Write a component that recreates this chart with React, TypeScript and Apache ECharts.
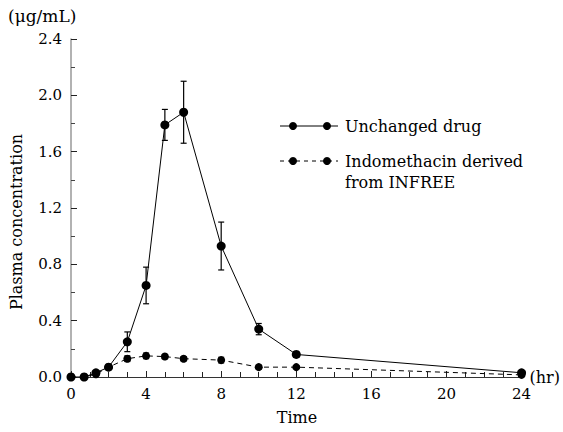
import React, { useEffect, useRef } from "react";
import * as echarts from "echarts";

const times = [0, 0.7, 1.33, 2, 3, 4, 5, 6, 8, 10, 12, 24];
const unchangedMean = [0, 0, 0.03, 0.07, 0.25, 0.65, 1.79, 1.88, 0.93, 0.34, 0.16, 0.03];
const unchangedSD = [0, 0, 0, 0.01, 0.07, 0.13, 0.11, 0.22, 0.17, 0.04, 0.02, 0.01];
const indoMean = [0, 0, 0.02, 0.07, 0.13, 0.15, 0.145, 0.13, 0.12, 0.07, 0.07, 0.015];
const indoSD = [0, 0, 0, 0, 0.02, 0.02, 0.015, 0.015, 0.02, 0.015, 0.01, 0.005];
const seriesNames = ["Unchanged drug", "Indomethacin derived\nfrom INFREE"];
const yTicks = { min: 0, max: 2.4, interval: 0.4 };
const xTicks = { min: 0, max: 24, interval: 4 };

const FONT = "DejaVu Serif";

function errData(mean: number[], sd: number[]) {
  return times.map((t, i) => [t, mean[i] - sd[i], mean[i] + sd[i]]);
}

function renderErr(params: any, api: any) {
  const x = api.value(0);
  const lo = api.coord([x, api.value(1)]);
  const hi = api.coord([x, api.value(2)]);
  if (Math.abs(hi[1] - lo[1]) < 0.5) return null;
  const w = 3;
  const style = { stroke: "#000", lineWidth: 1.2 };
  return {
    type: "group",
    children: [
      { type: "line", shape: { x1: lo[0], y1: lo[1], x2: hi[0], y2: hi[1] }, style },
      { type: "line", shape: { x1: lo[0] - w, y1: lo[1], x2: lo[0] + w, y2: lo[1] }, style },
      { type: "line", shape: { x1: hi[0] - w, y1: hi[1], x2: hi[0] + w, y2: hi[1] }, style },
    ],
  };
}

export default function App() {
  const ref = useRef<HTMLDivElement>(null);
  useEffect(() => {
    if (!ref.current) return;
    const chart = echarts.init(ref.current, null, { renderer: "svg" });
    const L = 71, T = 39, R = 523, B = 377;
    chart.setOption({
      animation: false,
      backgroundColor: "#fff",
      textStyle: { fontFamily: FONT },
      grid: { left: L, top: T, right: 563 - R, bottom: 432 - B, containLabel: false },
      xAxis: {
        type: "value",
        min: xTicks.min,
        max: xTicks.max,
        interval: xTicks.interval,
        name: "(hr)",
        nameLocation: "end",
        nameGap: 8,
        nameTextStyle: { fontFamily: FONT, fontSize: 16, color: "#000", verticalAlign: "middle" },
        axisLine: { lineStyle: { color: "#333", width: 1 } },
        axisTick: { inside: true, length: 6, lineStyle: { color: "#222" } },
        minorTick: { show: true, splitNumber: 4, length: 5, lineStyle: { color: "#222" } },
        axisLabel: { fontFamily: FONT, fontSize: 15, color: "#000", margin: 9 },
        splitLine: { show: false },
      },
      yAxis: {
        type: "value",
        min: yTicks.min,
        max: yTicks.max,
        interval: yTicks.interval,
        axisLine: { show: true, lineStyle: { color: "#999", width: 1.5 } },
        axisTick: { show: true, inside: true, length: 6, lineStyle: { color: "#222" } },
        minorTick: { show: true, splitNumber: 2, length: 4, lineStyle: { color: "#444" } },
        axisLabel: {
          fontFamily: FONT,
          fontSize: 15,
          color: "#000",
          margin: 9,
          formatter: (v: number) => v.toFixed(1),
        },
        splitLine: { show: false },
      },
      series: [
        {
          type: "line",
          name: seriesNames[0],
          data: times.map((t, i) => [t, unchangedMean[i]]),
          symbol: "circle",
          symbolSize: 9,
          itemStyle: { color: "#000" },
          lineStyle: { color: "#000", width: 1 },
          z: 3,
        },
        {
          type: "line",
          name: seriesNames[1],
          data: times.map((t, i) => [t, indoMean[i]]),
          symbol: "circle",
          symbolSize: 8,
          itemStyle: { color: "#000" },
          lineStyle: { color: "#000", width: 1, type: [5, 4] },
          z: 3,
        },
        {
          type: "custom",
          data: errData(unchangedMean, unchangedSD),
          renderItem: renderErr,
          z: 2,
          silent: true,
        },
        {
          type: "custom",
          data: errData(indoMean, indoSD),
          renderItem: renderErr,
          z: 2,
          silent: true,
        },
      ],
      graphic: [
        {
          type: "text",
          left: 8,
          top: 7,
          style: { text: "(μg/mL)", font: `17px "${FONT}"`, fill: "#000" },
        },
        {
          type: "text",
          x: 297,
          y: 417,
          style: { text: "Time", font: `16px "${FONT}"`, fill: "#000", align: "center", verticalAlign: "middle" },
        },
        {
          type: "text",
          x: 16,
          y: 222,
          rotation: Math.PI / 2,
          style: {
            text: "Plasma concentration",
            font: `16px "${FONT}"`,
            fill: "#000",
            align: "center",
            verticalAlign: "middle",
          },
        },
        { type: "line", shape: { x1: 280, y1: 126, x2: 338, y2: 126 }, style: { stroke: "#000", lineWidth: 1 } },
        { type: "circle", shape: { cx: 293, cy: 126, r: 4 }, style: { fill: "#000" } },
        { type: "circle", shape: { cx: 327, cy: 126, r: 4 }, style: { fill: "#000" } },
        {
          type: "text",
          x: 345,
          y: 126,
          style: { text: seriesNames[0], font: `16px "${FONT}"`, fill: "#000", verticalAlign: "middle" },
        },
        {
          type: "line",
          shape: { x1: 280, y1: 161, x2: 338, y2: 161 },
          style: { stroke: "#000", lineWidth: 1, lineDash: [4, 4] },
        },
        { type: "circle", shape: { cx: 293, cy: 161, r: 4 }, style: { fill: "#000" } },
        { type: "circle", shape: { cx: 327, cy: 161, r: 4 }, style: { fill: "#000" } },
        {
          type: "text",
          x: 345,
          y: 151,
          style: { text: seriesNames[1], font: `16px "${FONT}"`, fill: "#000", verticalAlign: "top", lineHeight: 21 },
        },
      ],
    });
    return () => chart.dispose();
  }, []);
  return <div ref={ref} style={{ width: 563, height: 432, position: "absolute", left: 0, top: 0 }} />;
}
